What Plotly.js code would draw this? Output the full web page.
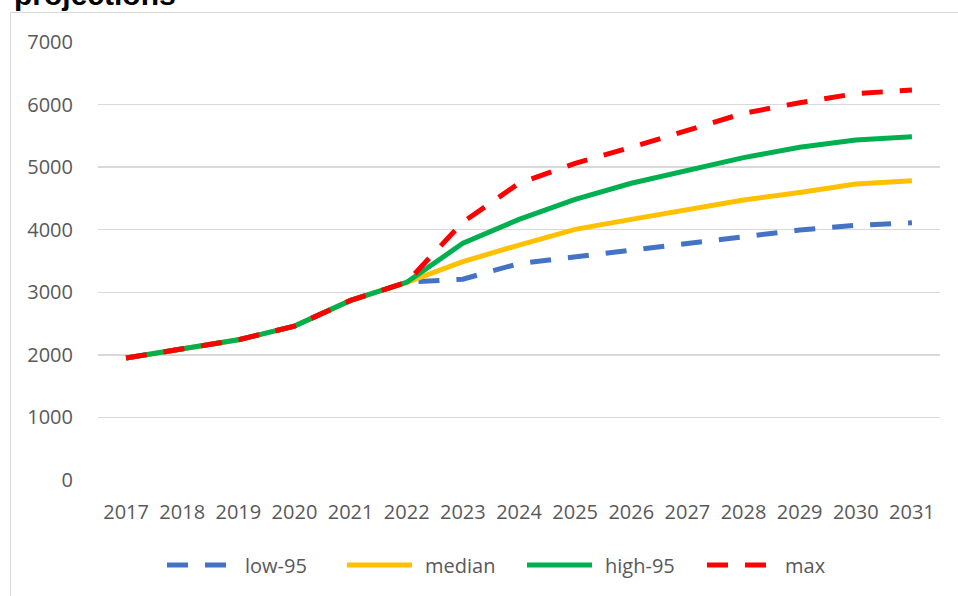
<!DOCTYPE html>
<html>
<head>
<meta charset="utf-8">
<script src="https://cdn.plot.ly/plotly-3.0.1.min.js"></script>
<style>
  html, body { margin: 0; padding: 0; background: #ffffff; }
  #wrap { position: relative; width: 958px; height: 596px; overflow: hidden; }
  #chart { position: absolute; left: 0; top: 0; width: 958px; height: 596px; }
  #frame { position: absolute; left: 10px; top: 12px; width: 2000px; height: 2000px;
           border-left: 1.5px solid #d9d9d9; border-top: 1.5px solid #d9d9d9; pointer-events: none; }
</style>
</head>
<body>
<div id="wrap">
  <div id="chart"></div>
  <div id="frame"></div>
</div>
<script>
// ---- data ----
const years = [2017, 2018, 2019, 2020, 2021, 2022, 2023, 2024, 2025, 2026, 2027, 2028, 2029, 2030, 2031];
const history = [1950, 2105, 2240, 2460, 2870, 3160];
const low95Proj  = [3210, 3460, 3570, 3680, 3795, 3900, 3995, 4070, 4112];
const medianProj = [3490, 3755, 4005, 4165, 4315, 4475, 4595, 4730, 4784];
const high95Proj = [3783, 4166, 4486, 4742, 4954, 5152, 5317, 5434, 5487];
const maxProj    = [4120, 4742, 5061, 5317, 5583, 5860, 6030, 6175, 6233];
const seriesNames = ["low-95", "median", "high-95", "max"];
const yTicks = [0, 1000, 2000, 3000, 4000, 5000, 6000, 7000];
const titleText = "projections";

const low95  = history.concat(low95Proj);
const median = history.concat(medianProj);
const high95 = history.concat(high95Proj);
const maxS   = history.concat(maxProj);

const fontFam = "'Open Sans', 'Liberation Sans', sans-serif";
const dashPat = "21px,17px";

const traces = [
  { x: years, y: low95,  name: seriesNames[0], mode: "lines", line: { color: "#4472C4", width: 5, dash: dashPat } },
  { x: years, y: median, name: seriesNames[1], mode: "lines", line: { color: "#FFC000", width: 5 } },
  { x: years, y: high95, name: seriesNames[2], mode: "lines", line: { color: "#00B050", width: 5 } },
  { x: years, y: maxS,   name: seriesNames[3], mode: "lines", line: { color: "#FF0000", width: 5, dash: dashPat } }
];

const layout = {
  width: 958, height: 596,
  margin: { l: 98, r: 18, t: 42, b: 116 },
  paper_bgcolor: "rgba(0,0,0,0)",
  plot_bgcolor: "#ffffff",
  font: { family: fontFam, size: 20, color: "#595959" },
  showlegend: true,
  legend: {
    orientation: "h", xref: "container", x: 162 / 958, xanchor: "left",
    yref: "container", y: 0.052, yanchor: "middle",
    font: { family: fontFam, size: 20, color: "#595959" },
    entrywidth: 135, entrywidthmode: "pixels",
    tracegroupgap: 0, bgcolor: "rgba(0,0,0,0)"
  },
  xaxis: {
    range: [2016.5, 2031.5], tickvals: years, ticktext: years.map(String),
    showgrid: false, zeroline: false, showline: false,
    ticks: "outside", ticklen: 14, tickcolor: "rgba(0,0,0,0)",
    tickfont: { family: fontFam, size: 20, color: "#595959" }
  },
  yaxis: {
    range: [0, 7000], tickvals: yTicks, ticktext: yTicks.map(String),
    showgrid: true, gridcolor: "#d9d9d9", gridwidth: 1.5,
    zeroline: false, showline: false,
    ticks: "outside", ticklen: 20, tickcolor: "rgba(0,0,0,0)",
    tickfont: { family: fontFam, size: 20, color: "#595959" }
  },
  annotations: [{
    text: "<b>" + titleText + "</b>", xref: "paper", yref: "paper",
    x: -0.102, y: 1.108, xanchor: "left", yanchor: "middle", showarrow: false,
    font: { family: "'Liberation Sans', Arial, sans-serif", size: 30, color: "#000000" }
  }]
};

Plotly.newPlot("chart", traces, layout, { displayModeBar: false, staticPlot: true }).then(function (gd) {
  // lengthen legend line samples to match the reference's longer keys
  gd.querySelectorAll(".legend .traces").forEach(function (g) {
    g.querySelectorAll(".legendlines path").forEach(function (p) { p.setAttribute("d", "M5,0h65"); });
    g.querySelectorAll("text.legendtext").forEach(function (t) { t.setAttribute("x", 83); });
  });
});
</script>
</body>
</html>
